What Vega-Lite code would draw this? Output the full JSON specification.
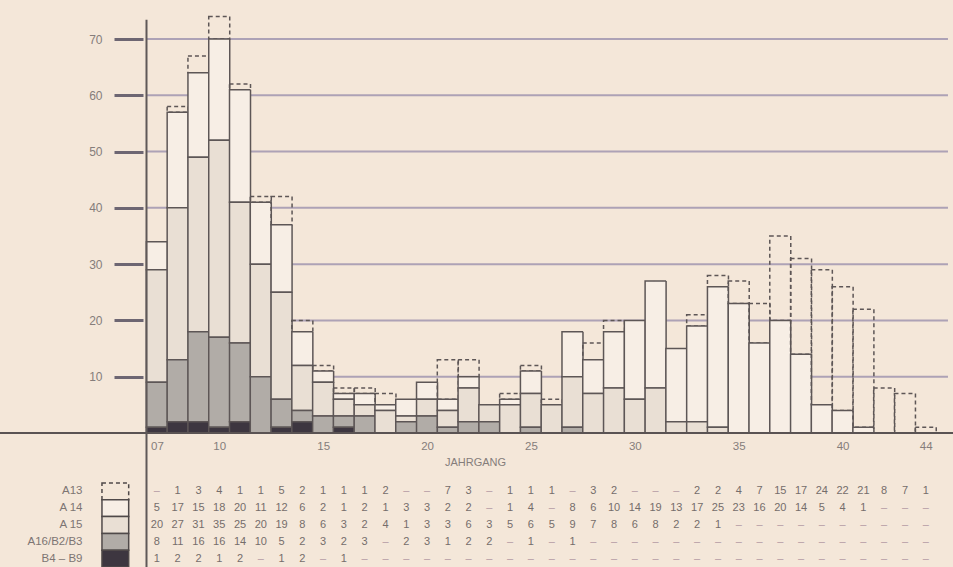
{
  "$schema": "https://vega.github.io/schema/vega-lite/v6.json",
  "width": 953,
  "height": 567,
  "autosize": "none",
  "padding": 0,
  "background": "#f4e7d9",
  "config": {
    "view": {"stroke": null},
    "font": "Liberation Sans",
    "text": {"font": "Liberation Sans"}
  },
  "datasets": {
    "jahrgaenge": [
      {"year": 7, "A13": null, "A14": 5, "A15": 20, "A16": 8, "B4": 1},
      {"year": 8, "A13": 1, "A14": 17, "A15": 27, "A16": 11, "B4": 2},
      {"year": 9, "A13": 3, "A14": 15, "A15": 31, "A16": 16, "B4": 2},
      {"year": 10, "A13": 4, "A14": 18, "A15": 35, "A16": 16, "B4": 1},
      {"year": 11, "A13": 1, "A14": 20, "A15": 25, "A16": 14, "B4": 2},
      {"year": 12, "A13": 1, "A14": 11, "A15": 20, "A16": 10, "B4": null},
      {"year": 13, "A13": 5, "A14": 12, "A15": 19, "A16": 5, "B4": 1},
      {"year": 14, "A13": 2, "A14": 6, "A15": 8, "A16": 2, "B4": 2},
      {"year": 15, "A13": 1, "A14": 2, "A15": 6, "A16": 3, "B4": null},
      {"year": 16, "A13": 1, "A14": 1, "A15": 3, "A16": 2, "B4": 1},
      {"year": 17, "A13": 1, "A14": 2, "A15": 2, "A16": 3, "B4": null},
      {"year": 18, "A13": 2, "A14": 1, "A15": 4, "A16": null, "B4": null},
      {"year": 19, "A13": null, "A14": 3, "A15": 1, "A16": 2, "B4": null},
      {"year": 20, "A13": null, "A14": 3, "A15": 3, "A16": 3, "B4": null},
      {"year": 21, "A13": 7, "A14": 2, "A15": 3, "A16": 1, "B4": null},
      {"year": 22, "A13": 3, "A14": 2, "A15": 6, "A16": 2, "B4": null},
      {"year": 23, "A13": null, "A14": null, "A15": 3, "A16": 2, "B4": null},
      {"year": 24, "A13": 1, "A14": 1, "A15": 5, "A16": null, "B4": null},
      {"year": 25, "A13": 1, "A14": 4, "A15": 6, "A16": 1, "B4": null},
      {"year": 26, "A13": 1, "A14": null, "A15": 5, "A16": null, "B4": null},
      {"year": 27, "A13": null, "A14": 8, "A15": 9, "A16": 1, "B4": null},
      {"year": 28, "A13": 3, "A14": 6, "A15": 7, "A16": null, "B4": null},
      {"year": 29, "A13": 2, "A14": 10, "A15": 8, "A16": null, "B4": null},
      {"year": 30, "A13": null, "A14": 14, "A15": 6, "A16": null, "B4": null},
      {"year": 31, "A13": null, "A14": 19, "A15": 8, "A16": null, "B4": null},
      {"year": 32, "A13": null, "A14": 13, "A15": 2, "A16": null, "B4": null},
      {"year": 33, "A13": 2, "A14": 17, "A15": 2, "A16": null, "B4": null},
      {"year": 34, "A13": 2, "A14": 25, "A15": 1, "A16": null, "B4": null},
      {"year": 35, "A13": 4, "A14": 23, "A15": null, "A16": null, "B4": null},
      {"year": 36, "A13": 7, "A14": 16, "A15": null, "A16": null, "B4": null},
      {"year": 37, "A13": 15, "A14": 20, "A15": null, "A16": null, "B4": null},
      {"year": 38, "A13": 17, "A14": 14, "A15": null, "A16": null, "B4": null},
      {"year": 39, "A13": 24, "A14": 5, "A15": null, "A16": null, "B4": null},
      {"year": 40, "A13": 22, "A14": 4, "A15": null, "A16": null, "B4": null},
      {"year": 41, "A13": 21, "A14": 1, "A15": null, "A16": null, "B4": null},
      {"year": 42, "A13": 8, "A14": null, "A15": null, "A16": null, "B4": null},
      {"year": 43, "A13": 7, "A14": null, "A15": null, "A16": null, "B4": null},
      {"year": 44, "A13": 1, "A14": null, "A15": null, "A16": null, "B4": null}
    ],
    "gitter": [{"v": 10}, {"v": 20}, {"v": 30}, {"v": 40}, {"v": 50}, {"v": 60}, {"v": 70}],
    "eins": [{}]
  },
  "layer": [
    {
      "layer": [
        {
          "data": {"name": "gitter"},
          "mark": {"type": "rule", "stroke": "#8f84a6", "strokeWidth": 2, "opacity": 0.7},
          "encoding": {
            "y": {
              "field": "v", "type": "quantitative",
              "scale": {"domain": [-23.81, 76.93], "nice": false, "zero": false},
              "axis": {
                "orient": "left", "offset": -143, "values": [10, 20, 30, 40, 50, 60, 70],
                "domain": false, "grid": false, "tickSize": 29, "tickWidth": 3, "tickColor": "#6d6672",
                "labelPadding": 12, "labelFontSize": 12, "labelColor": "#857d7b", "title": null
              }
            },
            "x": {
              "datum": 6.5, "type": "quantitative",
              "scale": {"domain": [-0.3095, 45.0714], "nice": false, "zero": false},
              "axis": {
                "orient": "bottom", "offset": -134, "values": [7, 10, 15, 20, 25, 30, 35, 40, 44], "format": "02d",
                "ticks": false, "domain": false, "grid": false, "labelPadding": 7, "labelFontSize": 11.5,
                "labelColor": "#857d7b", "labelFlush": false, "labelOverlap": false,
                "title": "JAHRGANG", "titleX": 475, "titleY": 29, "titleBaseline": "middle",
                "titleFontWeight": "normal", "titleFontSize": 11, "titleColor": "#857d7b"
              }
            },
            "x2": {"datum": 45.07}
          }
        },
        {
          "data": {"name": "jahrgaenge"},
          "transform": [
            {"fold": ["A13", "A14", "A15", "A16", "B4"], "as": ["series", "n"]},
            {"filter": "datum.n != null"}
          ],
          "mark": {"type": "bar", "size": 21, "stroke": "#5d5656", "strokeWidth": 1.5},
          "encoding": {
            "x": {"field": "year", "type": "quantitative"},
            "y": {"field": "n", "type": "quantitative", "stack": "zero"},
            "order": {"field": "series", "sort": "descending"},
            "fill": {
              "field": "series", "type": "nominal",
              "scale": {"domain": ["A13", "A14", "A15", "A16", "B4"], "range": ["rgba(0,0,0,0)", "#f7eee5", "#e9dfd4", "#b1aca7", "#3d3640"]},
              "legend": null
            },
            "strokeDash": {"condition": {"test": "datum.series === 'A13'", "value": [4, 3]}, "value": [1, 0]}
          }
        },
        {
          "data": {"name": "eins"},
          "mark": {"type": "rule", "stroke": "#5a5353", "strokeWidth": 2},
          "encoding": {"y": {"datum": 0, "type": "quantitative"}}
        },
        {
          "data": {"name": "eins"},
          "mark": {"type": "rule", "stroke": "#5f5858", "strokeWidth": 2},
          "encoding": {
            "x": {"datum": 6.5, "type": "quantitative"},
            "y": {"datum": 73.4, "type": "quantitative"},
            "y2": {"datum": -24}
          }
        }
      ]
    },
    {
      "data": {"name": "jahrgaenge"},
      "transform": [{"fold": ["A13", "A14", "A15", "A16", "B4"], "as": ["series", "n"]}],
      "layer": [
        {
          "transform": [{"filter": "datum.year == 7"}],
          "mark": {"type": "bar", "stroke": "#4f4949", "strokeWidth": 1.5},
          "encoding": {
            "x": {"datum": 4.357, "type": "quantitative"},
            "x2": {"datum": 5.643},
            "y": {
              "field": "series", "type": "nominal",
              "scale": {"type": "band", "domain": ["A13", "A14", "A15", "A16", "B4"], "range": [483, 567], "paddingInner": 0, "paddingOuter": 0},
              "axis": {
                "orient": "left", "offset": -82, "domain": false, "ticks": false, "grid": false,
                "labelPadding": 0, "labelFontSize": 11.5, "labelColor": "#7d7573", "title": null,
                "labelExpr": "datum.value == 'A14' ? 'A 14' : datum.value == 'A15' ? 'A 15' : datum.value == 'A16' ? 'A16/B2/B3' : datum.value == 'B4' ? 'B4 – B9' : datum.value"
              }
            },
            "fill": {"field": "series", "type": "nominal", "legend": null},
            "strokeDash": {"condition": {"test": "datum.series === 'A13'", "value": [4, 3]}, "value": [1, 0]}
          }
        },
        {
          "mark": {"type": "text", "fontSize": 11, "baseline": "middle", "align": "center"},
          "encoding": {
            "x": {"field": "year", "type": "quantitative"},
            "y": {"field": "series", "type": "nominal"},
            "text": {"condition": {"test": "datum.n === null", "value": "–"}, "field": "n", "type": "quantitative", "format": "d"},
            "color": {"condition": {"test": "datum.n === null", "value": "#b39aa4"}, "value": "#756d6b"}
          }
        }
      ]
    }
  ],
  "resolve": {"scale": {"y": "independent"}}
}
